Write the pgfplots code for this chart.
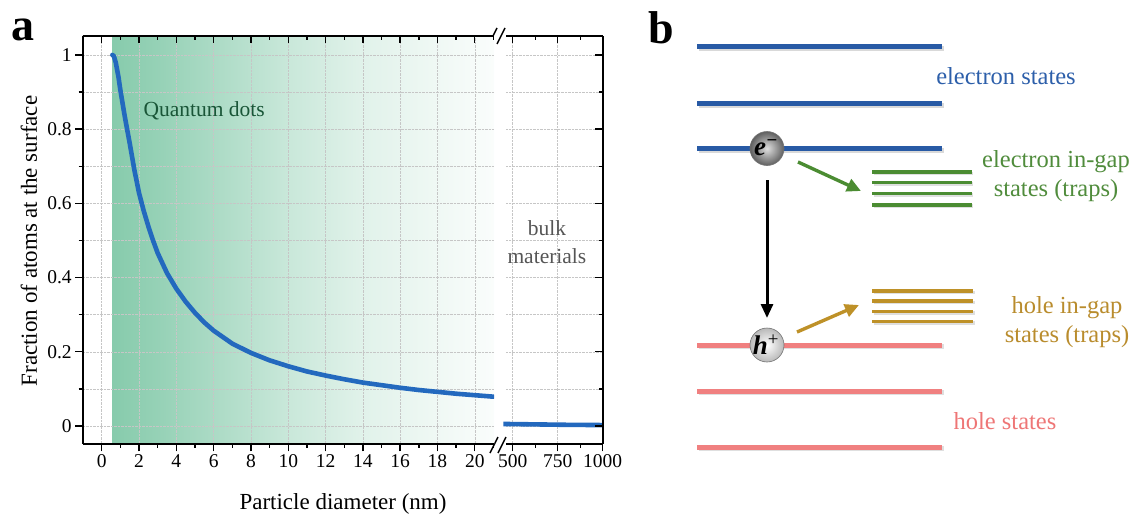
\documentclass[border=0pt]{standalone}
\usepackage{fontspec}
\setmainfont{Liberation Serif}
\usepackage{pgfplots}
\pgfplotsset{compat=1.18}
\usetikzlibrary{arrows.meta,shadings}
\definecolor{curveblue}{RGB}{35,105,190}
\definecolor{qd}{RGB}{135,203,172}
\definecolor{qdtext}{RGB}{25,85,55}
\definecolor{bulktext}{RGB}{85,85,85}
\definecolor{lvblue}{RGB}{40,90,165}
\definecolor{lvpink}{RGB}{240,128,128}
\definecolor{trapgreen}{RGB}{75,140,50}
\definecolor{trapgold}{RGB}{190,145,40}
\definecolor{txtblue}{RGB}{45,95,170}
\definecolor{txtgreen}{RGB}{80,140,60}
\definecolor{txtgold}{RGB}{185,140,45}
\definecolor{txtpink}{RGB}{238,118,118}

\pgfplotstableread{
x y
0.57 1.000
0.65 0.997
0.75 0.980
0.90 0.940
1.00 0.905
1.25 0.830
1.50 0.762
1.75 0.690
2.00 0.628
2.25 0.580
2.50 0.538
2.75 0.500
3.00 0.466
3.50 0.412
4.00 0.370
4.50 0.335
5.00 0.305
5.50 0.279
6.00 0.257
7.00 0.222
8.00 0.197
9.00 0.177
10.0 0.161
11.0 0.147
12.0 0.136
13.0 0.126
14.0 0.117
15.0 0.110
16.0 0.103
17.0 0.097
18.0 0.092
19.0 0.087
20.0 0.083
21.0 0.079
}\smalld
\pgfplotstableread{
x y
448 0.0055
600 0.0045
800 0.0032
1000 0.0025
}\bulkd

\pgfplotsset{
  panel/.style={scale only axis, anchor=south west, height=408pt,
    ymin=-0.0485, ymax=1.051,
    ytick={0,0.2,0.4,0.6,0.8,1}, minor ytick={0.1,0.3,0.5,0.7,0.9},
    major tick length=7.5pt, minor tick length=4pt,
    axis line style={line width=1.6pt, black},
    every tick/.append style={line width=1.4pt, black},
    tick label style={font=\fontsize{19.5}{20}\selectfont},
    /pgf/number format/assume math mode=true,
    /pgf/number format/fixed,
    /pgf/number format/set thousands separator={}},
  leftgeom/.style={at={(82.7pt,72pt)}, width=411.3pt, xmin=-1.02, xmax=21.03,
    xtick={0,2,4,6,8,10,12,14,16,18,20}, minor xtick={1,3,5,7,9,11,13,15,17,19,21}},
  rightgeom/.style={at={(506pt,72pt)}, width=96.7pt, xmin=462.8, xmax=1000,
    xtick={500,750,1000}, minor xtick={625,875}},
  gridst/.style={xmajorgrids, ymajorgrids, yminorgrids,
    major grid style={densely dotted, gray!45, line width=0.55pt},
    minor grid style={densely dotted, gray!45, line width=0.55pt}},
}

\begin{document}
\begin{tikzpicture}[x=1pt,y=1pt]
\useasboundingbox (0,0) rectangle (1134,516);

% ---------- canvas (panel b and labels) ----------
\begin{axis}[at={(0,0)}, anchor=south west, scale only axis, width=1134pt, height=516pt,
  xmin=0, xmax=1134, ymin=0, ymax=516, y dir=reverse, hide axis, clip=false]
% electron levels
\foreach \yy in {47,103.5,148.5} {
  \edef\tmp{\noexpand\addplot[draw=black!50, opacity=0.3, line width=5pt, forget plot] coordinates {(698.5,\yy+1.6) (943.5,\yy+1.6)};
  \noexpand\addplot[draw=lvblue, line width=5pt, forget plot] coordinates {(697,\yy) (942,\yy)};}\tmp
}
\foreach \yy in {345,391,447.3} {
  \edef\tmp{\noexpand\addplot[draw=black!50, opacity=0.25, line width=5pt, forget plot] coordinates {(698.5,\yy+1.6) (943.5,\yy+1.6)};
  \noexpand\addplot[draw=lvpink, line width=5pt, forget plot] coordinates {(697,\yy) (942,\yy)};}\tmp
}
\foreach \yy in {172,182.6,193.4,204.8} {
  \edef\tmp{\noexpand\addplot[draw=black!50, opacity=0.25, line width=3.6pt, forget plot] coordinates {(873.5,\yy+1.3) (973,\yy+1.3)};
  \noexpand\addplot[draw=trapgreen, line width=3.6pt, forget plot] coordinates {(872,\yy) (971.5,\yy)};}\tmp
}
\foreach \yy in {291,301,311.4,321.5} {
  \edef\tmp{\noexpand\addplot[draw=black!50, opacity=0.25, line width=3.6pt, forget plot] coordinates {(873.5,\yy+1.3) (974.5,\yy+1.3)};
  \noexpand\addplot[draw=trapgold, line width=3.6pt, forget plot] coordinates {(872,\yy) (973,\yy)};}\tmp
}
% arrows
\addplot[draw=trapgreen, line width=3.4pt, -{Triangle[length=14pt,width=13pt]}, forget plot] coordinates {(798,162) (861,191)};
\addplot[draw=trapgold, line width=3.4pt, -{Triangle[length=14pt,width=13pt]}, forget plot] coordinates {(797,332) (859,305)};
\addplot[draw=black, line width=3pt, -{Triangle[length=14pt,width=12pt]}, forget plot] coordinates {(767,180) (767,318)};
% carriers
\shade[inner color=gray!25, outer color=gray!75!black, draw=black!55, line width=0.6pt] (axis cs:767,148.5) circle[radius=17pt];
\node[font=\fontsize{27}{27}\selectfont\bfseries\itshape] at (axis cs:766,147.5) {e\textsuperscript{−}};
\shade[inner color=white, outer color=gray!55, draw=black!55, line width=0.6pt] (axis cs:767,345) circle[radius=17pt];
\node[font=\fontsize{27}{27}\selectfont] at (axis cs:766,345) {\textbf{\textit{h}}\textsuperscript{+}};
% texts panel b
\node[font=\fontsize{24.5}{29}\selectfont, text=txtblue] at (axis cs:1006,76) {electron states};
\node[font=\fontsize{24.5}{29}\selectfont, text=txtgreen, align=center] at (axis cs:1056,176) {electron in-gap\\states (traps)};
\node[font=\fontsize{24.5}{29}\selectfont, text=txtgold, align=center] at (axis cs:1067,322) {hole in-gap\\states (traps)};
\node[font=\fontsize{24.5}{29}\selectfont, text=txtpink] at (axis cs:1005,421) {hole states};
% panel letters
\node[font=\fontsize{46}{46}\selectfont\bfseries] at (axis cs:23,30) {a};
\node[font=\fontsize{46}{46}\selectfont\bfseries] at (axis cs:661,28) {b};
% axis labels panel a
\node[font=\fontsize{23}{26}\selectfont, rotate=90] at (axis cs:29,241) {Fraction of atoms at the surface};
\node[font=\fontsize{23}{26}\selectfont] at (axis cs:343,504) {Particle diameter (nm)};
% axis breaks
\draw[line width=1.4pt] (axis cs:489,44) -- (axis cs:497,28);
\draw[line width=1.4pt] (axis cs:497,44) -- (axis cs:505,28);
\draw[line width=1.4pt] (axis cs:490,453) -- (axis cs:498,437);
\draw[line width=1.4pt] (axis cs:498,453) -- (axis cs:506,437);
\end{axis}

% ---------- panel a, left part: background shading ----------
\begin{axis}[panel, leftgeom, hide axis]
\addplot[draw=none, left color=qd, right color=qd!88!white] coordinates {(0.57,-0.0485) (3,-0.0485) (3,1.051) (0.57,1.051)} -- cycle;
\addplot[draw=none, left color=qd!88!white, right color=qd!70!white] coordinates {(3,-0.0485) (6,-0.0485) (6,1.051) (3,1.051)} -- cycle;
\addplot[draw=none, left color=qd!70!white, right color=qd!45!white] coordinates {(6,-0.0485) (10,-0.0485) (10,1.051) (6,1.051)} -- cycle;
\addplot[draw=none, left color=qd!45!white, right color=qd!25!white] coordinates {(10,-0.0485) (14,-0.0485) (14,1.051) (10,1.051)} -- cycle;
\addplot[draw=none, left color=qd!25!white, right color=qd!13!white] coordinates {(14,-0.0485) (18,-0.0485) (18,1.051) (14,1.051)} -- cycle;
\addplot[draw=none, left color=qd!13!white, right color=qd!4!white] coordinates {(18,-0.0485) (21.03,-0.0485) (21.03,1.051) (18,1.051)} -- cycle;
\end{axis}

% ---------- panel a, left part: main ----------
\begin{axis}[panel, leftgeom, gridst,
  axis x line*=box, axis y line*=left, xtick pos=bottom, ytick pos=left, tick align=outside]
\addplot[curveblue, line width=4.6pt, line cap=round, line join=round] table[x=x,y=y] {\smalld};
\node[font=\fontsize{21.5}{24}\selectfont, text=qdtext] at (axis cs:5.49,0.849) {Quantum dots};
\end{axis}
\begin{axis}[panel, leftgeom, axis x line*=top, axis y line=none, xtick pos=top, tick align=inside,
  xticklabels={}, ytick=\empty, minor ytick={}]
\end{axis}

% ---------- panel a, right part ----------
\begin{axis}[panel, rightgeom, gridst, clip=false,
  axis x line*=box, axis y line*=right, xtick pos=bottom, tick align=outside,
  yticklabels={}, every major y tick/.append style={draw=none}, every minor y tick/.append style={draw=none}]
\addplot[curveblue, line width=4.6pt] table[x=x,y=y] {\bulkd};
\node[font=\fontsize{21.5}{24}\selectfont, text=bulktext] at (axis cs:690,0.532) {bulk};
\node[font=\fontsize{21.5}{24}\selectfont, text=bulktext] at (axis cs:690,0.459) {materials};
\end{axis}
\begin{axis}[panel, rightgeom, axis x line*=top, axis y line*=right, xtick pos=top, ytick pos=right,
  tick align=inside, xticklabels={}, yticklabels={}]
\end{axis}
\end{tikzpicture}
\end{document}
